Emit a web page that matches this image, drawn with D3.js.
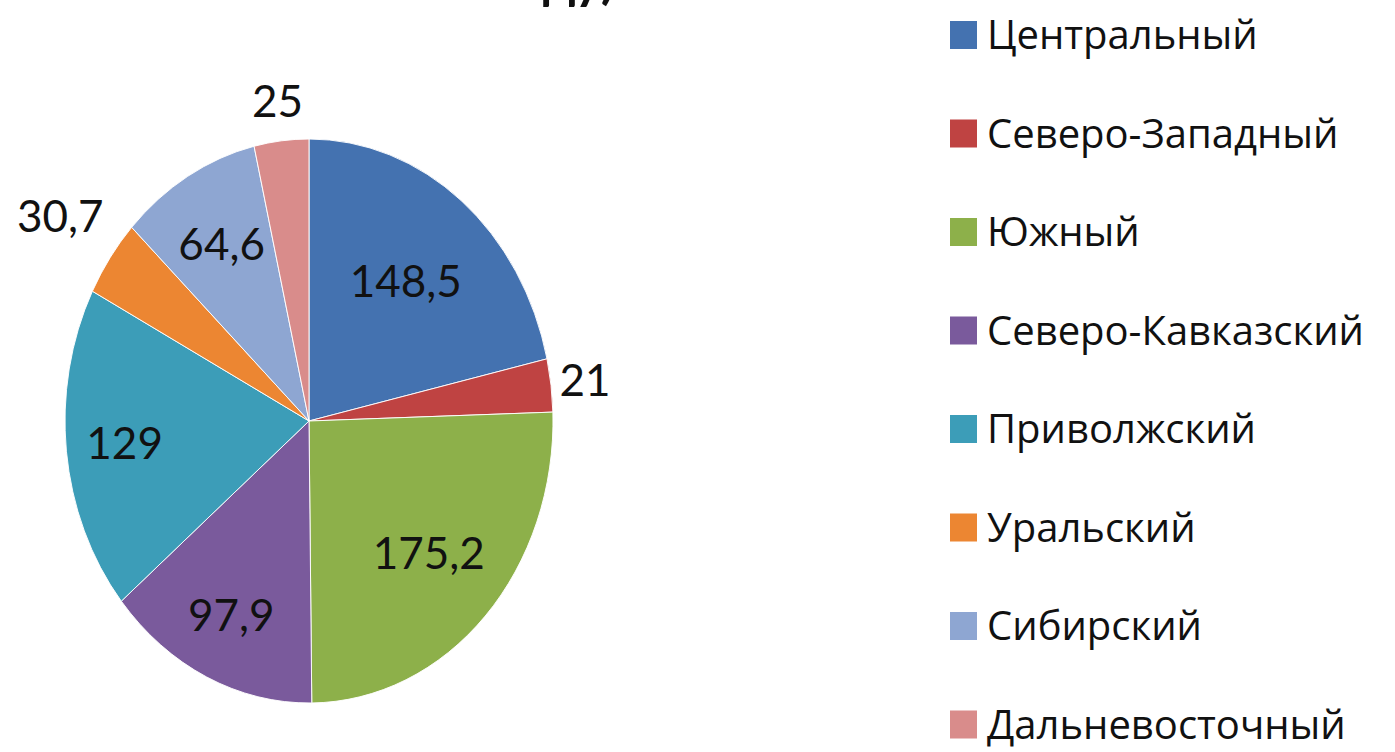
<!DOCTYPE html>
<html lang="ru">
<head>
    <meta charset="UTF-8">
    <title>Федеральные округа</title>
    <style>
        body { margin: 0; background: #fff; }
        svg text { font-family: Lato, "Open Sans", sans-serif; fill: #111; }
        .legend text { font-family: "Open Sans", Lato, sans-serif; }
    </style>
</head>
<body>
    <div id="chart"></div>
    <script src="https://d3js.org/d3.v7.min.js"></script>
    <script>
        var regions = ["Центральный", "Северо-Западный", "Южный", "Северо-Кавказский",
                       "Приволжский", "Уральский", "Сибирский", "Дальневосточный"];
        var values = [148.5, 21, 175.2, 97.9, 129, 30.7, 64.6, 25];
        var labels = ["148,5", "21", "175,2", "97,9", "129", "30,7", "64,6", "25"];
        var colors = ["#4472b0", "#bf4342", "#8db04a", "#7a5a9c",
                      "#3c9db8", "#ec8632", "#8ea6d2", "#d98c8b"];

        // label distance from centre, as a share of the radius (Excel "best fit")
        var labelRadius = [0.635, 1.14, 0.68, 0.76, 0.76, 1.25, 0.72, 1.14];

        var width = 1395, height = 752;
        var cx = 309, cy = 421, rx = 244, ry = 282;

        var svg = d3.select("#chart").append("svg")
            .attr("width", width)
            .attr("height", height);

        // title is cut off by the top edge in the original
        svg.append("text")
            .attr("x", 615)
            .attr("y", -2)
            .attr("text-anchor", "end")
            .style("font-weight", "bold")
            .style("font-size", "52px")
            .text("ду)");

        var pie = d3.pie().sort(null)(values);
        var arc = d3.arc().innerRadius(0).outerRadius(ry);

        var g = svg.append("g")
            .attr("transform", "translate(" + cx + "," + cy + ") scale(" + (rx / ry) + ",1)");

        g.selectAll("path")
            .data(pie)
            .enter().append("path")
            .attr("d", arc)
            .attr("fill", function(d, i) { return colors[i]; })
            .attr("stroke", "#fff")
            .attr("stroke-width", 1);

        function labelPos(d, i) {
            var r = ry * labelRadius[i];
            var c = d3.arc().innerRadius(r).outerRadius(r).centroid(d);
            return [cx + c[0] * rx / ry, cy + c[1]];
        }

        svg.append("g")
            .selectAll("text")
            .data(pie)
            .enter().append("text")
            .attr("x", function(d, i) { return labelPos(d, i)[0]; })
            .attr("y", function(d, i) { return labelPos(d, i)[1]; })
            .attr("dy", "0.35em")
            .attr("text-anchor", "middle")
            .style("font-size", "44px")
            .text(function(d, i) { return labels[i]; });

        var legend = svg.append("g")
            .attr("class", "legend")
            .selectAll("g")
            .data(regions)
            .enter().append("g")
            .attr("transform", function(d, i) { return "translate(950," + (35 + i * 98.5) + ")"; });

        legend.append("rect")
            .attr("x", 0)
            .attr("y", -14)
            .attr("width", 27)
            .attr("height", 28)
            .attr("fill", function(d, i) { return colors[i]; });

        legend.append("text")
            .attr("x", 37)
            .attr("y", 0)
            .attr("dy", "0.35em")
            .style("font-size", "40px")
            .text(function(d) { return d; });
    </script>
</body>
</html>
